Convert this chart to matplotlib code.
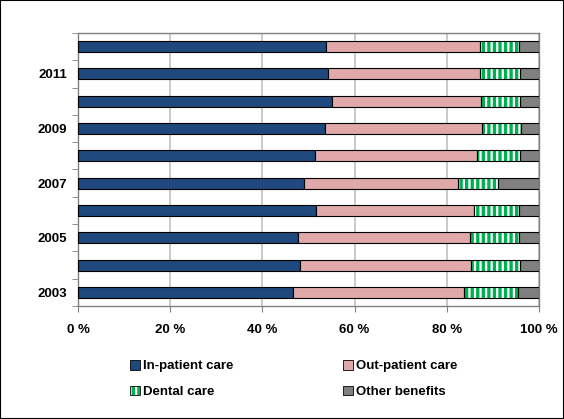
import numpy as np
import matplotlib
matplotlib.use("Agg")
import matplotlib.pyplot as plt
from matplotlib.patches import Patch, Rectangle

years = [2003, 2004, 2005, 2006, 2007, 2008, 2009, 2010, 2011, 2012]
yearLabels = ["2003", "", "2005", "", "2007", "", "2009", "", "2011", ""]

# shares in %
inPatient = [46.6, 48.1, 47.8, 51.7, 49.0, 51.5, 53.6, 55.1, 54.2, 53.8]
outPatient = [37.2, 37.2, 37.2, 34.3, 33.4, 35.0, 34.1, 32.4, 33.1, 33.5]
dental = [11.7, 10.6, 10.7, 9.7, 8.7, 9.4, 8.5, 8.4, 8.6, 8.4]
other = [4.5, 4.1, 4.3, 4.3, 8.9, 4.1, 3.8, 4.1, 4.1, 4.3]

seriesNames = ["In-patient care", "Out-patient care", "Dental care", "Other benefits"]

blue = "#1F497D"
pink = "#E0A8A8"
green = "#00B050"
gray = "#808080"

plt.rcParams['font.family'] = ['Liberation Sans', 'DejaVu Sans']
plt.rcParams['hatch.linewidth'] = 1.6

fig = plt.figure(figsize = (5.64, 4.19), dpi = 100)
ax = fig.add_axes([78 / 564, 1 - 306 / 419, 461 / 564, 273 / 419])

pos = np.arange(len(years))
h = 0.4

inPatient = np.array(inPatient)
outPatient = np.array(outPatient)
dental = np.array(dental)
other = np.array(other)

left = np.zeros(len(years))
ax.barh(pos, inPatient, height = h, left = left, color = blue, edgecolor = "black", linewidth = 0.8, zorder = 3)
left = left + inPatient
ax.barh(pos, outPatient, height = h, left = left, color = pink, edgecolor = "black", linewidth = 0.8, zorder = 3)
left = left + outPatient
# dental: green with white vertical stripes, then outline
ax.barh(pos, dental, height = h, left = left, color = green, edgecolor = "white", hatch = "|||", linewidth = 0, zorder = 3)
ax.barh(pos, dental, height = h, left = left, fill = False, edgecolor = "black", linewidth = 0.8, zorder = 4)
left = left + dental
ax.barh(pos, other, height = h, left = left, color = gray, edgecolor = "black", linewidth = 0.8, zorder = 3)

ax.set_xlim(0, 100)
ax.set_ylim(-0.5, len(years) - 0.5)

ax.set_xticks(range(0, 101, 20))
ax.set_xticklabels([f"{x} %" for x in range(0, 101, 20)], fontsize = 9.5, fontweight = "bold")
ax.set_yticks(pos)
ax.set_yticklabels(yearLabels, fontsize = 9.5, fontweight = "bold")
ax.set_yticks(np.arange(-0.5, len(years), 1), minor = True)

ax.tick_params(axis = "y", which = "major", length = 0, pad = 8)
ax.tick_params(axis = "y", which = "minor", length = 4, color = "#808080", direction = "out")
ax.tick_params(axis = "x", length = 4, color = "#808080", direction = "out", pad = 9)

ax.xaxis.grid(True, color = "#C0C0C0", linewidth = 1.2, zorder = 0)
ax.set_axisbelow(True)

for s in ax.spines.values():
	s.set_color("#808080")
	s.set_linewidth(1)

dentalHandle = (Patch(facecolor = green, edgecolor = "white", hatch = "|||", linewidth = 0),
	Patch(fill = False, edgecolor = "black", linewidth = 0.6))
handles = [
	Patch(facecolor = blue, edgecolor = "black", linewidth = 0.6),
	dentalHandle,
	Patch(facecolor = pink, edgecolor = "black", linewidth = 0.6),
	Patch(facecolor = gray, edgecolor = "black", linewidth = 0.6),
]
labels = [seriesNames[0], seriesNames[2], seriesNames[1], seriesNames[3]]

leg = fig.legend(handles, labels, ncol = 2, loc = "center left", bbox_to_anchor = (118 / 564, 1 - 379 / 419),
	frameon = False, handlelength = 0.75, handleheight = 0.75, handletextpad = 0.25,
	columnspacing = 8.3, labelspacing = 1.0, prop = {"size": 9.5, "weight": "bold"})

fig.patches.append(Rectangle((0, 0), 1, 1, transform = fig.transFigure, fill = False,
	edgecolor = "black", linewidth = 1.5))

fig.savefig("out.png", dpi = 100)
